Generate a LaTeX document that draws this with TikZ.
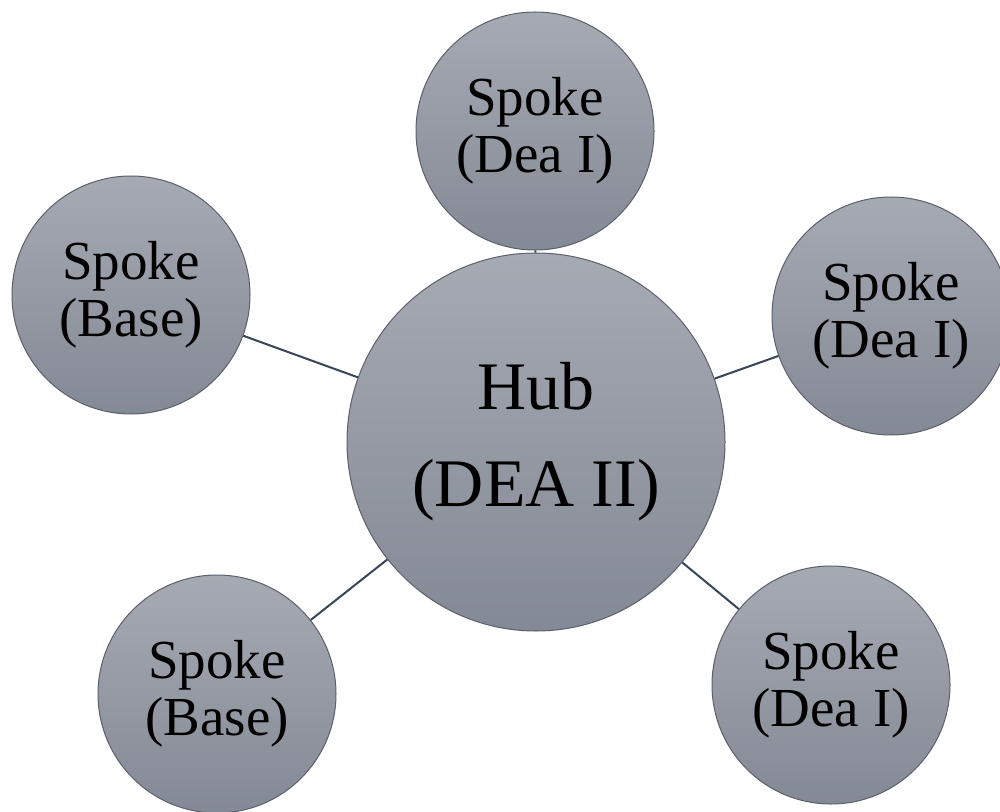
\documentclass[tikz,border=0pt]{standalone}
\usepackage{fontspec}
\setmainfont{Liberation Serif}
\definecolor{fillTop}{HTML}{A5AAB3}
\definecolor{fillBottom}{HTML}{848A95}
\definecolor{rimGray}{HTML}{5B616B}
\definecolor{spokeLine}{HTML}{36465A}
\usetikzlibrary{positioning}

\begin{document}
\begin{tikzpicture}[x=0.5pt, y=-0.5pt,
    ball/.style={circle, draw=rimGray, line width=0.5pt, top color=fillTop,
                 bottom color=fillBottom, align=center, inner sep=0pt},
    spoke/.style={ball, minimum size=119pt, font=\fontsize{27.5}{28.5}\selectfont},
    hub/.style={ball, minimum size=189pt, font=\fontsize{34}{48.5}\selectfont},
    link/.style={draw=spokeLine, line width=1pt}]
  \useasboundingbox (0,0) rectangle (1000,812);

  % hub and its spokes
  \node[hub] (hub) at (536,442) {Hub\\(DEA II)};
  \node[spoke] (top) at (535,131) {Spoke\\(Dea I)};
  \node[spoke] (baseL) at (131,295) {Spoke\\(Base)};
  \node[spoke] (deaR) at (891,316) {Spoke\\(Dea I)};
  \node[spoke] (baseB) at (217,694) {Spoke\\(Base)};
  \node[spoke] (deaB) at (831,685) {Spoke\\(Dea I)};

  \foreach \s in {top, baseL, deaR, baseB, deaB}
    \draw[link] (hub) -- (\s);
\end{tikzpicture}
\end{document}
